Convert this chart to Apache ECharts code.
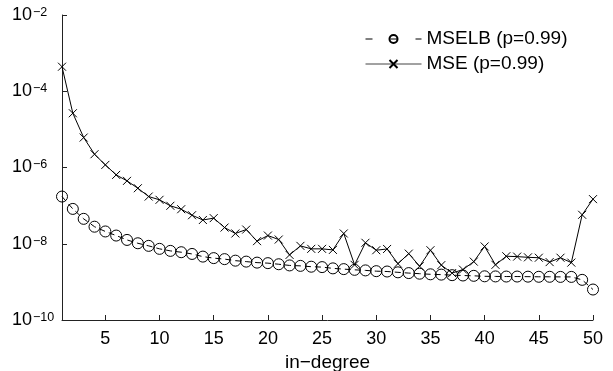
<!DOCTYPE html>
<html>
<head>
<meta charset="utf-8">
<script src="https://cdn.jsdelivr.net/npm/echarts@6/dist/echarts.min.js"></script>
<style>html,body{margin:0;padding:0;background:#fff}#c{width:613px;height:371px}</style>
</head>
<body>
<div id="c"></div>
<script>
const inDegree = [];
for (let i = 1; i <= 50; i++) inDegree.push(i);
const xTicks = [5,10,15,20,25,30,35,40,45,50];
const yTicks = [1e-10,1e-8,1e-6,1e-4,1e-2];
const mselbName = 'MSELB (p=0.99)';
const mseName = 'MSE (p=0.99)';
const mselb = [1.73e-7,8.2e-8,4.5e-8,2.8e-8,2.1e-8,1.64e-8,1.26e-8,1.03e-8,8.8e-9,7.35e-9,
  6.5e-9,6.0e-9,5.4e-9,4.6e-9,4.2e-9,3.95e-9,3.6e-9,3.4e-9,3.2e-9,3.1e-9,
  2.9e-9,2.7e-9,2.63e-9,2.5e-9,2.44e-9,2.26e-9,2.16e-9,2.07e-9,2.0e-9,1.91e-9,
  1.87e-9,1.78e-9,1.7e-9,1.64e-9,1.58e-9,1.55e-9,1.5e-9,1.47e-9,1.44e-9,1.40e-9,
  1.39e-9,1.38e-9,1.38e-9,1.37e-9,1.36e-9,1.36e-9,1.35e-9,1.35e-9,1.13e-9,6.3e-10];
const mse = [4.4e-4,2.65e-5,6.1e-6,2.23e-6,1.17e-6,6.4e-7,4.46e-7,2.86e-7,1.73e-7,1.42e-7,
  9.9e-8,8.05e-8,5.6e-8,4.2e-8,4.7e-8,2.66e-8,1.86e-8,2.36e-8,1.17e-8,1.64e-8,
  1.29e-8,5.1e-9,8.8e-9,7.35e-9,7.35e-9,6.9e-9,1.86e-8,2.8e-9,1.06e-8,6.76e-9,
  7.3e-9,3.0e-9,5.5e-9,2.57e-9,6.76e-9,2.75e-9,1.7e-9,2.1e-9,3.4e-9,8.5e-9,
  2.8e-9,4.7e-9,4.6e-9,4.4e-9,4.3e-9,3.3e-9,4.3e-9,3.2e-9,5.75e-8,1.48e-7];

const font = 'Liberation Sans, Arial, Helvetica, sans-serif';
const chart = echarts.init(document.getElementById('c'), null, {renderer: 'canvas'});
chart.setOption({
  animation: false,
  backgroundColor: '#fff',
  textStyle: {fontFamily: font},
  grid: {left: 62, right: 20, top: 15, bottom: 51, containLabel: false, outerBoundsMode: 'none'},
  legend: {
    orient: 'vertical', left: 360, top: 24,
    itemWidth: 56, itemHeight: 10, itemGap: 5,
    textStyle: {fontFamily: font, fontSize: 19, lineHeight: 20, color: '#000'},
    data: [
      {name: mselbName, lineStyle: {type: [7, 18], width: 1}},
      {name: mseName, lineStyle: {width: 1, color: '#444'}}
    ]
  },
  xAxis: {
    type: 'value', min: 1, max: 50,
    name: 'in\u2212degree', nameLocation: 'middle', nameGap: 28,
    nameTextStyle: {fontFamily: font, fontSize: 19, color: '#000'},
    axisLine: {show: true, lineStyle: {color: '#222', width: 1}},
    axisTick: {show: true, inside: true, length: 5, customValues: xTicks, lineStyle: {color: '#222'}},
    axisLabel: {customValues: xTicks, fontFamily: font, fontSize: 18, color: '#000', margin: 10},
    splitLine: {show: false}
  },
  yAxis: {
    type: 'log', logBase: 10, min: 1e-10, max: 1e-2,
    axisLine: {show: true, lineStyle: {color: '#222', width: 1}},
    axisTick: {show: true, inside: true, length: 5, customValues: yTicks, lineStyle: {color: '#222'}},
    axisLabel: {
      customValues: yTicks, margin: 50, align: 'left', color: '#000',
      formatter: function (v) {
        const e = Math.round(Math.log10(v));
        return '{b|10}{s|\u2212' + (-e) + '}';
      },
      rich: {
        b: {fontFamily: font, fontSize: 18, lineHeight: 18, padding: [6,0,6,0], verticalAlign: 'middle', color: '#000'},
        s: {fontFamily: font, fontSize: 12.5, lineHeight: 12, verticalAlign: 'top', color: '#000', padding: [0,0,0,1]}
      }
    },
    splitLine: {show: false}
  },
  series: [
    {
      name: mselbName, type: 'line',
      data: inDegree.map((x, i) => [x, mselb[i]]),
      symbol: 'circle', symbolSize: 11,
      itemStyle: {color: 'rgba(0,0,0,0)', borderColor: '#000', borderWidth: 1},
      lineStyle: {color: '#000', width: 1, type: [6, 4]},
      z: 2
    },
    {
      name: mseName, type: 'line',
      data: inDegree.map((x, i) => [x, mse[i]]),
      symbol: 'path://M0,0L10,10M10,0L0,10', symbolSize: 8,
      itemStyle: {color: '#000', borderColor: '#000', borderWidth: 1},
      lineStyle: {color: '#000', width: 1},
      z: 3
    }
  ]
});
</script>
</body>
</html>
